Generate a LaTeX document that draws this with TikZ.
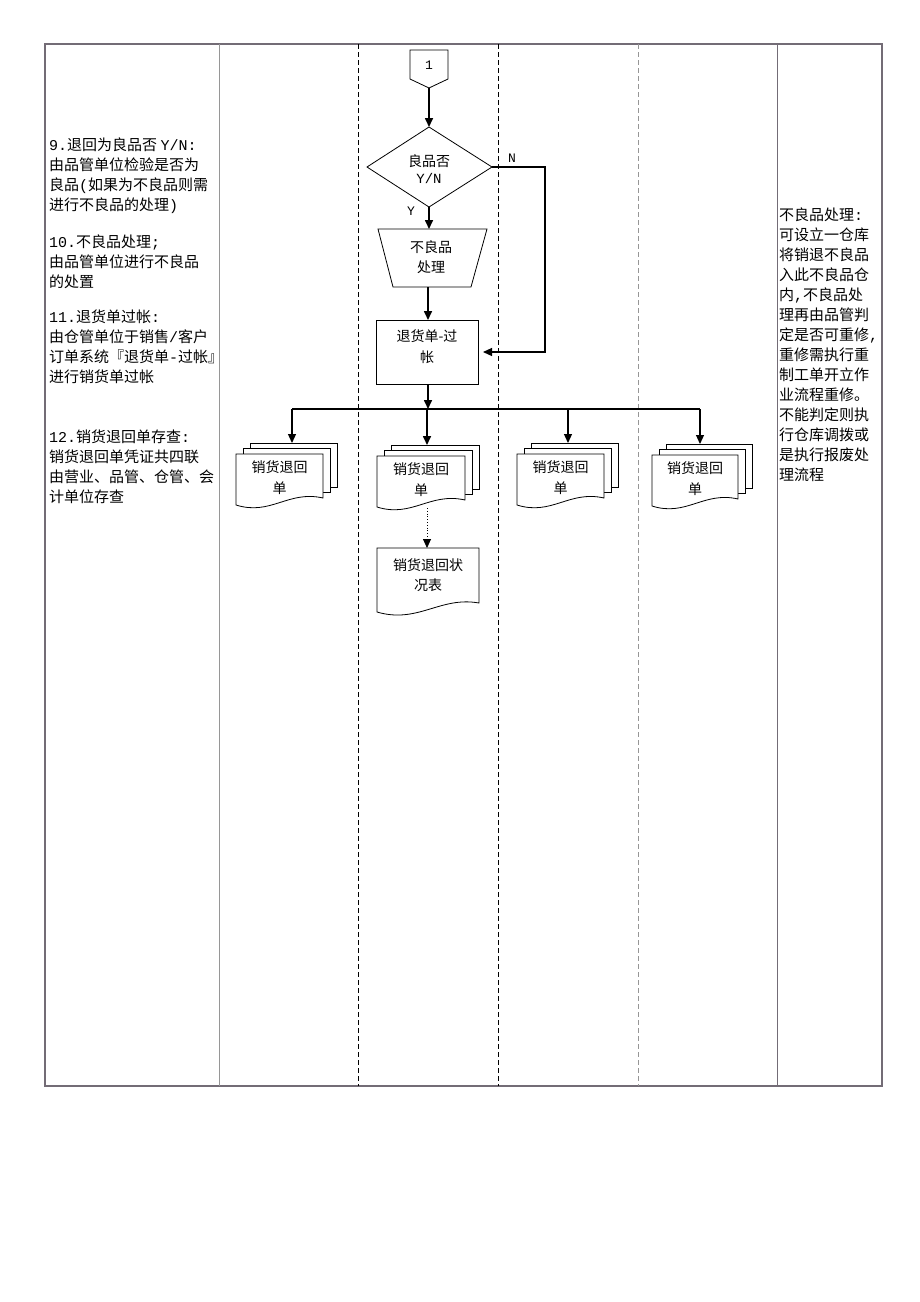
\documentclass[tikz,border=0pt]{standalone}
\usepackage{fontspec}
\setmainfont{Noto Sans CJK SC}
\newfontfamily\lmono{Liberation Mono}
\usetikzlibrary{arrows.meta}
\definecolor{tline}{RGB}{115,108,118}
\definecolor{tgray}{RGB}{150,150,150}
\newcommand\docstack[5]{%
  \begin{scope}[shift={(#2,#3)}]
    \draw[docline] (14,-11) rectangle (#4+14,33);
    \draw[docline] (7,-6) rectangle (#4+7,38);
    \draw[docline] (0,0) -- (#4,0) -- (#4,44) .. controls (0.6*#4,36) and (0.4*#4,62) .. (0,51) -- cycle;
    \node[txt] (#1) at (0.5*#4,24) {销货退回\\单};
    \coordinate (#1-in) at (#5,-11);
  \end{scope}}
\begin{document}
\begin{tikzpicture}[x=1pt,y=-1pt,
  flow/.style={line width=1.6pt,-{Triangle[length=9pt,width=8pt]}},
  thinflow/.style={line width=1.2pt,-{Triangle[length=9pt,width=8pt]}},
  docline/.style={draw=black,line width=0.8pt,fill=white},
  txt/.style={font=\fontsize{14}{21}\selectfont,align=center,inner sep=0pt},
  note/.style={font=\fontsize{15}{20}\selectfont,align=left,anchor=north west,inner sep=0pt},
  lbl/.style={font=\lmono\fontsize{13}{15}\selectfont,inner sep=0pt}]
\useasboundingbox (0,0) rectangle (920,1302);
% table
\draw[tline,line width=1.2pt] (45,44) rectangle (882,1086);
\draw[tgray,line width=1pt] (219,44) -- (219,1086);
\draw[tline,line width=1pt] (777,44) -- (777,1086);
\draw[black,line width=0.7pt,dash pattern=on 5pt off 3pt] (358,44) -- (358,1086);
\draw[black,line width=0.7pt,dash pattern=on 5pt off 3pt] (498,44) -- (498,1086);
\draw[tgray,line width=0.9pt,dash pattern=on 5pt off 3pt] (638,44) -- (638,1086);
% left notes
\node[note] (n9) at (49,138) {{\lmono 9.}退回为良品否 {\lmono Y/N:}\\由品管单位检验是否为\\良品{\lmono (}如果为不良品则需\\进行不良品的处理{\lmono )}};
\node[note] (n10) at (49,235) {{\lmono 10.}不良品处理{\lmono ;}\\由品管单位进行不良品\\的处置};
\node[note] (n11) at (49,310) {{\lmono 11.}退货单过帐{\lmono :}\\由仓管单位于销售{\lmono /}客户\\订单系统『退货单{\lmono -}过帐』\\进行销货单过帐};
\node[note] (n12) at (49,430) {{\lmono 12.}销货退回单存查{\lmono :}\\销货退回单凭证共四联\\由营业、品管、仓管、会\\计单位存查};
% right note
\node[note] (nr) at (779,208) {不良品处理{\lmono :}\\可设立一仓库\\将销退不良品\\入此不良品仓\\内{\lmono ,}不良品处\\理再由品管判\\定是否可重修{\lmono ,}\\重修需执行重\\制工单开立作\\业流程重修。\\不能判定则执\\行仓库调拨或\\是执行报废处\\理流程};
% off-page connector
\draw[docline] (410,50) -- (448,50) -- (448,79) -- (429,88) -- (410,79) -- cycle;
\node[lbl] (c1) at (429,65) {1};
\coordinate (c1tip) at (429,88);
% decision
\draw[docline] (429,127) -- (492,167) -- (429,207) -- (367,167) -- cycle;
\coordinate (dtop) at (429,127);
\coordinate (dright) at (492,167);
\coordinate (dbot) at (429,207);
\node[txt,font=\fontsize{14}{17}\selectfont] (dec) at (429,169) {良品否\\{\lmono Y/N}};
\node[lbl] (lN) at (512,158) {N};
\node[lbl] (lY) at (411,211) {Y};
% trapezoid
\draw[docline] (378,229) -- (487,229) -- (471,287) -- (393,287) -- cycle;
\coordinate (ttop) at (429,229);
\coordinate (tbot) at (428,287);
\node[txt,font=\fontsize{14}{20}\selectfont] (trap) at (431,257) {不良品\\处理};
% posting rectangle
\draw[docline] (376,320) rectangle (478,384);
\coordinate (rtop) at (428,320);
\coordinate (rbot) at (428,384);
\coordinate (rin) at (483,352);
\node[txt] (post) at (427,347) {退货单-过\\帐};
% status document
\draw[docline] (377,548) -- (479,548) -- (479,603) .. controls (440,596) and (418,624) .. (377,612) -- cycle;
\node[txt,font=\fontsize{14}{20}\selectfont] (stat) at (428,575) {销货退回状\\况表};
\coordinate (stattop) at (427,548);
% document stacks
\docstack{s1}{236}{454}{87}{56}
\docstack{s2}{377}{456}{88}{50}
\docstack{s3}{517}{454}{87}{51}
\docstack{s4}{652}{455}{86}{48}
\coordinate (s2bot) at (427,508);
% bus
\coordinate (bus) at (428,409);
\coordinate (b1) at (292,409);
\coordinate (b2) at (427,409);
\coordinate (b3) at (568,409);
\coordinate (b4) at (700,409);
% connectors
\draw[flow] (c1tip) -- (dtop);
\draw[flow] (dbot) -- (ttop);
\draw[flow] (tbot) -- (rtop);
\draw[flow] (rbot) -- (bus);
\draw[thinflow] (dright) -- (545,167) -- (545,352) -- (rin);
\draw[line width=1.2pt] (b1) -- (b4);
\draw[thinflow] (b1) -- (b1 |- s1-in);
\draw[flow] (b2) -- (b2 |- s2-in);
\draw[thinflow] (b3) -- (b3 |- s3-in);
\draw[thinflow] (b4) -- (b4 |- s4-in);
\draw[line width=0.8pt,dotted,-{Triangle[length=9pt,width=8pt]}] (s2bot) -- (stattop);
\end{tikzpicture}
\end{document}
